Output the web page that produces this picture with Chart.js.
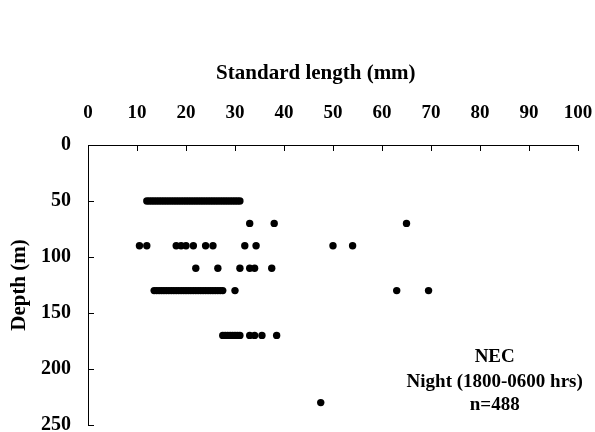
<!DOCTYPE html>
<html>
<head>
<meta charset="utf-8">
<script src="https://cdn.jsdelivr.net/npm/chart.js@4/dist/chart.umd.min.js"></script>
<style>
html,body{margin:0;padding:0;background:#fff;}
canvas{display:block;}
</style>
</head>
<body>
<canvas id="depthChart" width="595" height="432"></canvas>
<script>

// standard length (mm) of fish caught at each sampled depth (m)
const depths = [50, 70, 90, 110, 130, 170, 230];

const len50 = [12,12.5,13,13.5,14,14.5,15,15.5,16,16.5,17,17.5,18,18.5,19,19.5,20,20.5,21,21.5,22,22.5,23,23.5,24,24.5,25,25.5,26,26.5,27,27.5,28,28.5,29,29.5,30,30.5,31];
const len70 = [33,38,65];
const len90 = [10.5,12,18,19,20,21.5,24,25.5,32,34.3,50,54];
const len110 = [22,26.5,31,33,34,37.5];
const len130 = [13.5,14,14.5,15,15.5,16,16.5,17,17.5,18,18.5,19,19.5,20,20.5,21,21.5,22,22.5,23,23.5,24,24.5,25,25.5,26,26.5,27,27.5,30,63,69.5];
const len170 = [27.5,28,28.5,29,29.5,30,30.5,31,33,34,35.5,38.5];
const len230 = [47.5];

const lengthsByDepth = [len50, len70, len90, len110, len130, len170, len230];

const xTicks = [0,10,20,30,40,50,60,70,80,90,100];
const yTicks = [0,50,100,150,200,250];

const noteLines = ["NEC", "Night (1800-0600 hrs)", "n=488"];

let points = [];
for(let i=0;i<depths.length;i++){
  lengthsByDepth[i].forEach(function(l){
    points.push({x:l, y:depths[i]});
  });
}

const serif = "'Liberation Serif', 'Times New Roman', serif";

// short tick marks pointing into the plot, plus the x title and the note
const extras = {
  id:"extras",
  afterDraw(chart){
    const ctx = chart.ctx;
    const xs = chart.scales.x;
    const ys = chart.scales.y;
    const area = chart.chartArea;
    ctx.save();
    ctx.strokeStyle = "#000";
    ctx.lineWidth = 1;
    ctx.beginPath();
    xTicks.forEach(function(v){
      if(v===0) return;
      const px = Math.round(xs.getPixelForValue(v)) + 0.5;
      ctx.moveTo(px, area.top);
      ctx.lineTo(px, area.top + 6);
    });
    yTicks.forEach(function(v){
      if(v===0) return;
      const py = Math.round(ys.getPixelForValue(v)) + 0.5;
      ctx.moveTo(area.left, py);
      ctx.lineTo(area.left + 6, py);
    });
    ctx.stroke();

    ctx.fillStyle = "#000";
    ctx.textAlign = "center";
    ctx.textBaseline = "middle";
    ctx.font = "bold 21px " + serif;
    ctx.fillText("Standard length (mm)", xs.getPixelForValue(46.5), 74);

    ctx.font = "bold 19px " + serif;
    const nx = xs.getPixelForValue(83);
    ctx.fillText(noteLines[0], nx, ys.getPixelForValue(189.5));
    ctx.fillText(noteLines[1], nx, ys.getPixelForValue(212));
    ctx.fillText(noteLines[2], nx, ys.getPixelForValue(232.5));
    ctx.restore();
  }
};

const chart = new Chart(document.getElementById("depthChart"),{
  type:"scatter",
  data:{
    datasets:[{
      label:"Night",
      data:points,
      pointRadius:3.7,
      pointBackgroundColor:"#000",
      pointBorderWidth:0,
      showLine:false
    }]
  },
  options:{
    responsive:false,
    animation:false,
    devicePixelRatio:1,
    layout:{padding:{top:0,left:0,right:17,bottom:7}},
    plugins:{
      legend:{display:false},
      tooltip:{enabled:false}
    },
    scales:{
      x:{
        type:"linear",
        position:"top",
        min:0,
        max:100,
        afterFit(scale){
          scale.height = 145;
          scale.paddingLeft = 0;
          scale.paddingRight = 0;
        },
        afterBuildTicks(scale){ scale.ticks = xTicks.map(function(v){ return {value:v}; }); },
        grid:{display:false, drawTicks:false},
        border:{display:true, color:"#000", width:1},
        ticks:{
          color:"#000",
          padding:21,
          maxRotation:0,
          font:{family:serif, size:19, weight:"bold"}
        }
      },
      y:{
        type:"linear",
        reverse:true,
        min:0,
        max:250,
        afterFit(scale){
          scale.width = 88;
          scale.paddingTop = 0;
          scale.paddingBottom = 0;
        },
        afterBuildTicks(scale){ scale.ticks = yTicks.map(function(v){ return {value:v}; }); },
        grid:{display:false, drawTicks:false},
        border:{display:true, color:"#000", width:1},
        title:{
          display:true,
          text:"Depth (m)",
          color:"#000",
          padding:{top:7,bottom:0},
          font:{family:serif, size:21, weight:"bold"}
        },
        ticks:{
          color:"#000",
          padding:17,
          font:{family:serif, size:20, weight:"bold"}
        }
      }
    }
  },
  plugins:[extras]
});

</script>
</body>
</html>
